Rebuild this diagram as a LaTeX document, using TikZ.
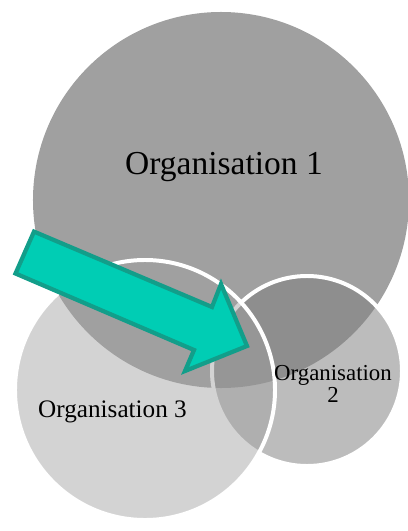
\documentclass[tikz,border=0pt]{standalone}
\usepackage{fontspec}
\setmainfont{Liberation Serif}
\usetikzlibrary{positioning}
\definecolor{orggray}{HTML}{A0A0A0}
\definecolor{orgmid}{HTML}{7F7F7F}
\definecolor{arrowfill}{HTML}{00CDB4}
\definecolor{arrowline}{HTML}{129E8A}
\tikzset{orgcircle/.style={circle, inner sep=0pt, outer sep=0pt,
    draw=white, line width=3.4pt},
  orglabel/.style={text=black, inner sep=0pt, anchor=base, align=center}}

\begin{document}
\begin{tikzpicture}[x=0.03cm, y=-0.03cm]
  \useasboundingbox (0,0) rectangle (407,531);

  % the three organisations
  \node[orgcircle, draw=none, fill=orggray, minimum size=11.28cm] (org1) at (221,200) {};
  \node[orgcircle, fill=orgmid, fill opacity=0.52, minimum size=5.7cm] (org2) at (307,371) {};
  \node[orgcircle, fill=orggray, fill opacity=0.46, minimum size=7.8cm] (org3) at (145,390) {};

  % arrow into the overlap
  \draw[arrowline, fill=arrowfill, line width=3.6pt, miter limit=10]
    (34,231.6) -- (212,307) -- (221,284) -- (247,346) -- (185,371)
    -- (194,350) -- (15.5,273.5) -- cycle;

  % labels
  \node[orglabel, font=\fontsize{28.6}{30}\selectfont] (lab1) at (224,174) {Organisation 1};
  \node[orglabel, font=\fontsize{21.5}{22}\selectfont] (lab3) at (112.5,417) {Organisation 3};
  \node[orglabel, font=\fontsize{19.5}{17}\selectfont] (lab2) at (333,402) {Organisation\\2};
\end{tikzpicture}
\end{document}
